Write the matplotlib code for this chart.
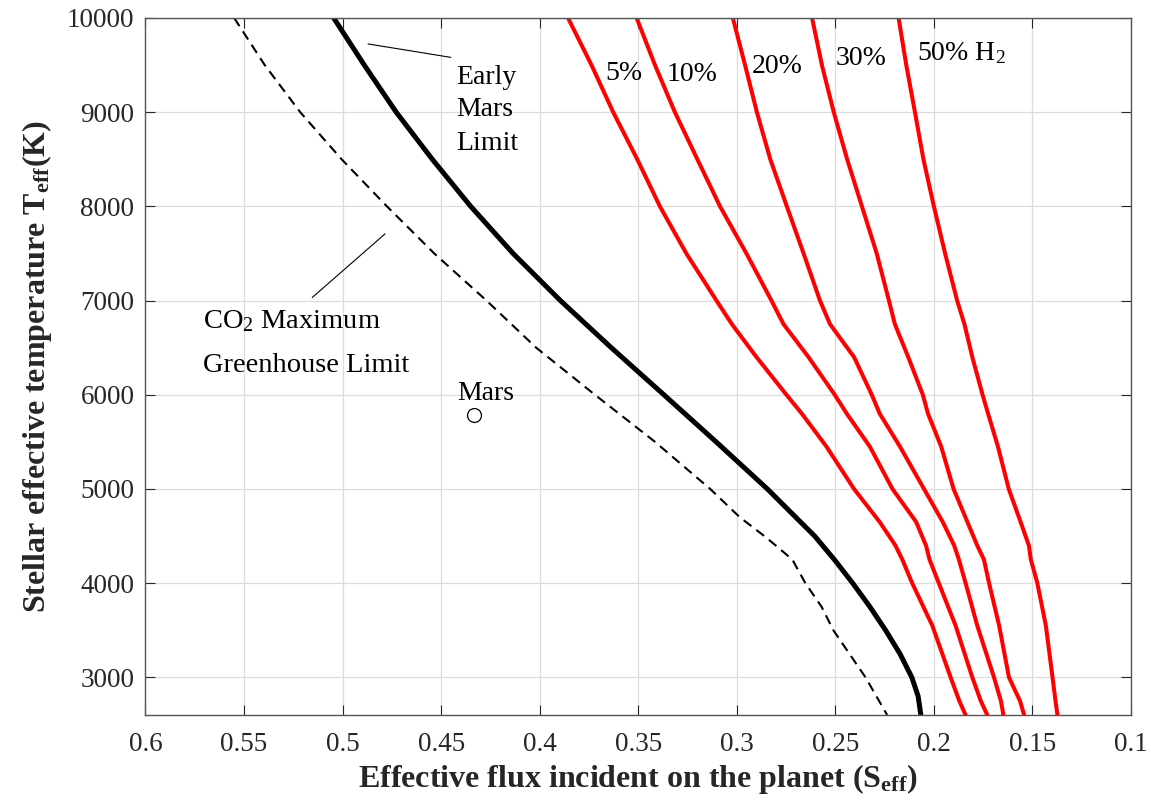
import matplotlib
matplotlib.use('Agg')
import matplotlib.pyplot as plt

plt.rcParams['font.family'] = ['Liberation Serif', 'DejaVu Serif']
plt.rcParams['mathtext.fontset'] = 'custom'
plt.rcParams['mathtext.rm'] = 'Liberation Serif'
plt.rcParams['mathtext.it'] = 'Liberation Serif:italic'
plt.rcParams['mathtext.bf'] = 'Liberation Serif:bold'
plt.rcParams['lines.scale_dashes'] = False

# ---------------- data ----------------
# Early Mars limit (solid black)
T_early = [10000, 9500, 9000, 8500, 8000, 7500, 7000, 6500, 6000, 5500, 5000,
           4500, 4250, 4000, 3750, 3500, 3250, 3000, 2800, 2600]
S_early = [0.5045, 0.489, 0.4728, 0.4545, 0.435, 0.4135, 0.3895, 0.3637, 0.337,
           0.3105, 0.2845, 0.2605, 0.2505, 0.2412, 0.2325, 0.2245, 0.2172,
           0.2112, 0.2080, 0.2066]

# CO2 maximum greenhouse limit (dashed black)
T_co2 = [10000, 9500, 9000, 8500, 8000, 7500, 7000, 6500, 6000, 5500, 5000,
         4700, 4480, 4250, 4000, 3750, 3500, 3000, 2600]
S_co2 = [0.555, 0.5395, 0.5215, 0.5005, 0.4775, 0.4535, 0.427, 0.4018, 0.372,
         0.3415, 0.3135, 0.2985, 0.2848, 0.2718, 0.2652, 0.2570, 0.2510,
         0.2347, 0.2237]

# H2 curves (red)
T_h2 = [10000, 9500, 9000, 8500, 8000, 7500, 7000, 6750, 6400, 6000, 5800,
        5450, 5000, 4650, 4400, 4250, 4000, 3550, 3000, 2750, 2600]
S_h2_05 = [0.3856, 0.3737, 0.3627, 0.3505, 0.339, 0.3256, 0.3103, 0.3025,
           0.2900, 0.2748, 0.2670, 0.2545, 0.2405, 0.2275, 0.2195, 0.2160,
           0.2110, 0.2008, 0.1915, 0.1871, 0.1839]
S_h2_10 = [0.3508, 0.3415, 0.3314, 0.3200, 0.3085, 0.2951, 0.2824, 0.2763,
           0.2636, 0.2503, 0.2442, 0.2325, 0.2210, 0.2090, 0.2040, 0.2022,
           0.1975, 0.1890, 0.1805, 0.1762, 0.1729]
S_h2_20 = [0.3020, 0.2958, 0.2898, 0.2830, 0.2746, 0.2661, 0.2578, 0.2527,
           0.2405, 0.2315, 0.2275, 0.2172, 0.2050, 0.1955, 0.1897, 0.1873,
           0.1839, 0.1780, 0.1695, 0.1660, 0.1647]
S_h2_30 = [0.2618, 0.2568, 0.2508, 0.2440, 0.2365, 0.2290, 0.2228, 0.2198,
           0.2130, 0.2056, 0.2030, 0.1963, 0.1900, 0.1830, 0.1780, 0.1746,
           0.1720, 0.1669, 0.1619, 0.1563, 0.1542]
S_h2_50 = [0.2179, 0.2140, 0.2096, 0.2053, 0.2000, 0.1943, 0.1882, 0.1845,
           0.1805, 0.1753, 0.1725, 0.1675, 0.1620, 0.1560, 0.1518, 0.1508,
           0.1475, 0.1432, 0.1398, 0.1383, 0.1373]

h2_labels = ['5%', '10%', '20%', '30%', '50% H$_2$']

# Mars point
mars_S = [0.4331]
mars_T = [5784]

x_ticks = [0.6, 0.55, 0.5, 0.45, 0.4, 0.35, 0.3, 0.25, 0.2, 0.15, 0.1]
x_ticklabels = ['0.6', '0.55', '0.5', '0.45', '0.4', '0.35', '0.3', '0.25',
                '0.2', '0.15', '0.1']
y_ticks = [3000, 4000, 5000, 6000, 7000, 8000, 9000, 10000]
y_ticklabels = ['3000', '4000', '5000', '6000', '7000', '8000', '9000', '10000']

# ---------------- figure ----------------
fig = plt.figure(figsize=(11.51, 8.09), dpi=100)
ax = fig.add_axes([0.1264, 0.1162, 0.8562, 0.8616])

axcol = '#262626'
ax.set_xlim(0.6, 0.1)
ax.set_ylim(2600, 10000)
ax.set_xticks(x_ticks)
ax.set_xticklabels(x_ticklabels)
ax.set_yticks(y_ticks)
ax.set_yticklabels(y_ticklabels)
ax.tick_params(direction='in', length=7, width=0.8, colors=axcol,
               labelsize=19.5, top=True, right=True)
ax.tick_params(axis='x', pad=12)
ax.tick_params(axis='y', pad=8)
for sp in ax.spines.values():
    sp.set_color('#555555')
    sp.set_linewidth(1.0)
ax.grid(True, color='#dcdcdc', linewidth=0.9)
ax.set_axisbelow(True)

# curves
ax.plot(S_co2, T_co2, color='black', linewidth=1.5, linestyle='--',
        dashes=(7, 4.5))
ax.plot(S_early, T_early, color='black', linewidth=3.6)
for s in [S_h2_05, S_h2_10, S_h2_20, S_h2_30, S_h2_50]:
    ax.plot(s, T_h2, color='#ff0000', linewidth=2.9)

ax.plot(mars_S, mars_T, linestyle='none', marker='o', markersize=10,
        markerfacecolor='none', markeredgecolor='black', markeredgewidth=0.9)

# H2 labels
h2_pos = [(0.3668, 9338), (0.3355, 9327), (0.2924, 9416), (0.2501, 9504),
          (0.2086, 9557)]
for lab, (xp, yp) in zip(h2_labels, h2_pos):
    ax.text(xp, yp, lab, fontsize=20, ha='left', va='baseline', color='black')

# Early Mars Limit label
for line, yb in zip(['Early', 'Mars', 'Limit'], [9302, 8955, 8602]):
    ax.text(0.4421, yb, line, fontsize=20, ha='left', va='baseline')
ax.plot([0.487, 0.4452], [9724, 9582], color='black', linewidth=0.8)

# CO2 label
ax.text(0.5709, 6709, 'CO$_2$ Maximum', fontsize=20.5, ha='left', va='baseline')
ax.text(0.5709, 6238, 'Greenhouse Limit', fontsize=20.5, ha='left', va='baseline')
ax.plot([0.4785, 0.5153], [7707, 7034], color='black', linewidth=0.8)

# Mars label
ax.text(0.4273, 5948, 'Mars', fontsize=20, ha='center', va='baseline')

ax.set_xlabel(r'Effective flux incident on the planet (S$_{\mathbf{eff}}$)',
              fontsize=23, fontweight='bold', color=axcol, labelpad=4)
ax.set_ylabel(r'Stellar effective temperature T$_{\mathbf{eff}}$(K)',
              fontsize=23, fontweight='bold', color=axcol, labelpad=9)

fig.savefig('out.png', dpi=100)
